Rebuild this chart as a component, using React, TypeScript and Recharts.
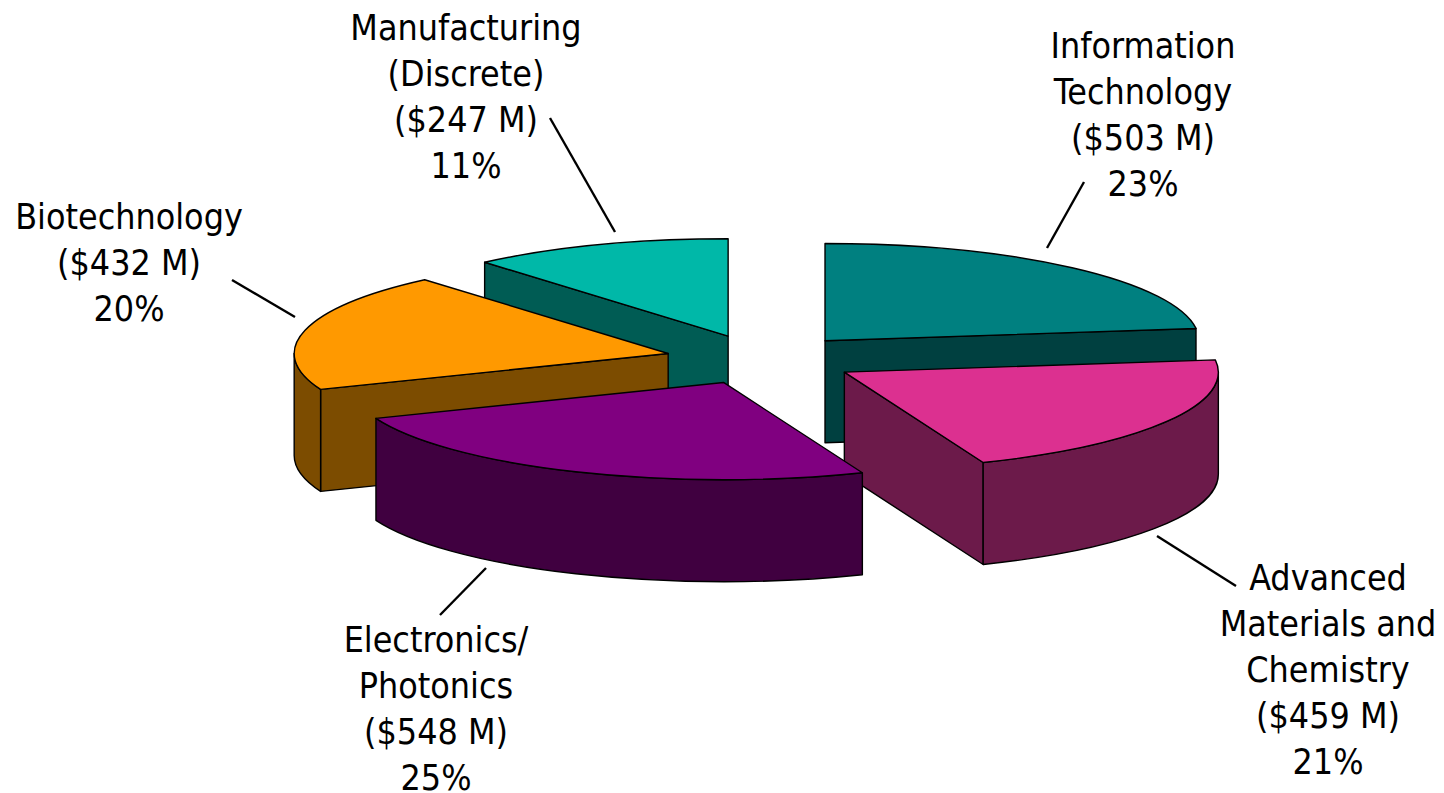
import { PieChart, Pie } from 'recharts';

const WIDTH = 1444;
const HEIGHT = 793;

const categories = ['Information Technology', 'Advanced Materials and Chemistry', 'Electronics/ Photonics', 'Biotechnology', 'Manufacturing (Discrete)'];
const amounts = [503, 459, 548, 432, 247];
const labelLines = [
  ['Information', 'Technology'],
  ['Advanced', 'Materials and', 'Chemistry'],
  ['Electronics/', 'Photonics'],
  ['Biotechnology'],
  ['Manufacturing', '(Discrete)'],
];
const topColors = ['#008080', '#DC3090', '#800080', '#FF9900', '#00B8A8'];
const wallColors = ['#004040', '#6C1A4A', '#400040', '#7C4C00', '#005C54'];

// slices overlap, so each one gets its own Pie layer, painted back to front
const paintOrder = [4, 3, 0, 1, 2];

const pieData = categories.map((name, i) => ({ name, value: amounts[i], slice: i }));

// fake 3D: circle squashed into an ellipse, slices pulled out along their mid angle
const TILT = 0.26;
const DEPTH = 102;
const EXPLODE = 0.257;

// label block centre x, first line y, then leader line ends
const labelLayout = [
  { x: 1143, y: 46, line: [1084, 182, 1047, 248] },
  { x: 1328, y: 578, line: [1236, 586, 1157, 536] },
  { x: 436, y: 640, line: [486, 568, 440, 615] },
  { x: 129, y: 217, line: [232, 280, 295, 317] },
  { x: 466, y: 28, line: [550, 118, 615, 232] },
];

const rad = (deg: number) => (deg * Math.PI) / 180;

function Slice3D(props: any) {
  const { cx, cy, outerRadius: R, startAngle, endAngle, payload } = props;
  const i = payload.slice ?? props.slice;
  // angles clockwise from 12 o'clock
  const from = 90 - startAngle;
  const to = 90 - endAngle;
  const s = Math.min(from, to);
  const e = Math.max(from, to);
  const mid = (s + e) / 2;
  const ax = cx + R * EXPLODE * Math.sin(rad(mid));
  const ay = cy - R * EXPLODE * TILT * Math.cos(rad(mid));
  const pt = (t: number): [number, number] => [ax + R * Math.sin(rad(t)), ay - R * TILT * Math.cos(rad(t))];
  const ry = R * TILT;
  const [x1, y1] = pt(s);
  const [x2, y2] = pt(e);

  const stroke = { stroke: '#000', strokeWidth: 1.4, strokeLinejoin: 'round' as const };
  const face = ([px, py]: [number, number], key: string) => (
    <path
      key={key}
      d={`M${ax},${ay} L${px},${py} L${px},${py + DEPTH} L${ax},${ay + DEPTH} Z`}
      fill={wallColors[i]}
      {...stroke}
    />
  );

  // outer wall only shows on the near half of the rim
  const ws = Math.max(s, 90);
  const we = Math.min(e, 270);
  let rim = null;
  if (we > ws) {
    const [wx1, wy1] = pt(ws);
    const [wx2, wy2] = pt(we);
    rim = (
      <path
        d={`M${wx1},${wy1} A${R},${ry} 0 0 1 ${wx2},${wy2} L${wx2},${wy2 + DEPTH} A${R},${ry} 0 0 0 ${wx1},${wy1 + DEPTH} Z`}
        fill={wallColors[i]}
        {...stroke}
      />
    );
  }

  return (
    <g>
      {Math.sin(rad(s)) < 0 && face([x1, y1], 'start')}
      {Math.sin(rad(e)) > 0 && face([x2, y2], 'end')}
      {rim}
      <path
        d={`M${ax},${ay} L${x1},${y1} A${R},${ry} 0 0 1 ${x2},${y2} Z`}
        fill={topColors[i]}
        {...stroke}
      />
    </g>
  );
}

const total = amounts.reduce((sum, v) => sum + v, 0);

function SliceLabel({ slice }: { slice: number }) {
  const { x, y, line } = labelLayout[slice];
  const rows = [...labelLines[slice], `($${amounts[slice]} M)`, `${Math.round((amounts[slice] / total) * 100)}%`];
  return (
    <g>
      <line x1={line[0]} y1={line[1]} x2={line[2]} y2={line[3]} stroke="#000" strokeWidth={2.4} />
      <text
        x={x}
        y={y}
        textAnchor="middle"
        fontFamily="'DejaVu Sans Condensed', 'DejaVu Sans'"
        fontStretch="condensed"
        fontSize={35.5}
        fill="#000"
      >
        {rows.map((row, r) => (
          <tspan key={r} x={x} y={y + r * 46} dy="0.33em">
            {row}
          </tspan>
        ))}
      </text>
    </g>
  );
}

export default function App() {
  return (
    <div style={{ position: 'absolute', left: 0, top: 0, width: WIDTH, height: HEIGHT, background: '#fff' }}>
      <PieChart width={WIDTH} height={HEIGHT} margin={{ top: 0, right: 0, bottom: 0, left: 0 }}>
        {paintOrder.map((slice) => (
          <Pie
            key={slice}
            data={pieData}
            dataKey="value"
            cx={761.5}
            cy={359.5}
            innerRadius={0}
            outerRadius={374}
            startAngle={90}
            endAngle={-270}
            stroke="none"
            isAnimationActive={false}
            labelLine={false}
            label={(p: any) => (p.index === slice ? <SliceLabel slice={slice} /> : null)}
            shape={(p: any) => (p.payload.slice === slice ? <Slice3D {...p} /> : <g />)}
          />
        ))}
      </PieChart>
    </div>
  );
}
